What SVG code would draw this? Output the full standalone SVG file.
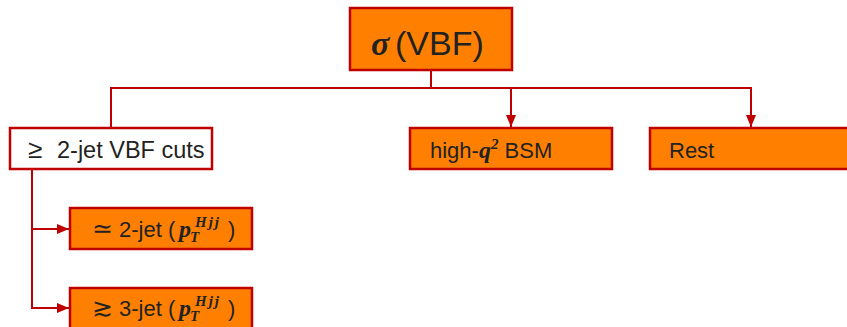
<svg xmlns="http://www.w3.org/2000/svg" width="847" height="327" viewBox="0 0 847 327">
<style>
.box{fill:#ff8000;stroke:#c00000;stroke-width:2.5}
.wbox{fill:#ffffff;stroke:#c00000;stroke-width:2.5}
.t{font-family:"Liberation Sans",Arial,sans-serif;font-size:22px;fill:#222}
.m{font-family:"Liberation Serif","DejaVu Serif",serif;font-style:italic;font-weight:bold}
.s{font-size:15px}
.c{fill:none;stroke:#c00000;stroke-width:2}
</style>
<defs>
<marker id="a" viewBox="0 0 12 10" refX="12" refY="5" markerWidth="12" markerHeight="10" markerUnits="userSpaceOnUse" orient="auto">
<path d="M0,0 L12,5 L0,10 Z" fill="#c00000"/>
</marker>
</defs>
<g id="connectors">
<path class="c" d="M431,70 V88 H111 V128"/>
<path class="c" d="M431,88 H511 V127" marker-end="url(#a)"/>
<path class="c" d="M511,88 H751 V127" marker-end="url(#a)"/>
<path class="c" d="M32,169 V229 H69" marker-end="url(#a)"/>
<path class="c" d="M32,229 V308 H69" marker-end="url(#a)"/>
</g>
<g id="vbf">
<rect class="box" x="350" y="8" width="162" height="62"/>
<text class="t" y="55" style="font-size:34px"><tspan class="m" x="371" style="font-size:34px">σ</tspan><tspan x="395">(VBF)</tspan></text>
</g>
<g id="cuts">
<rect class="wbox" x="10" y="128" width="202" height="41"/>
<text class="t" y="158"><tspan x="28" style="font-size:26px">≥</tspan><tspan x="57" style="font-size:23.5px">2-jet VBF cuts</tspan></text>
</g>
<g id="bsm">
<rect class="box" x="410" y="128" width="202" height="41"/>
<text class="t" x="430" y="158">high-<tspan class="m" style="font-size:24px">q</tspan><tspan class="m s" dy="-9">2</tspan><tspan dy="9"> BSM</tspan></text>
</g>
<g id="rest">
<rect class="box" x="650" y="128" width="210" height="41"/>
<text class="t" x="669" y="158">Rest</text>
</g>
<g id="jet2">
<rect class="box" x="70" y="208" width="182" height="41"/>
<text class="t" y="237"><tspan x="92" style="font-size:25px">≃</tspan><tspan x="119">2-jet (</tspan><tspan class="m" x="179" style="font-size:24px">p</tspan><tspan class="m s" x="190" y="242">T</tspan><tspan class="m s" x="195" y="227" letter-spacing="2">Hjj</tspan><tspan x="228" y="237">)</tspan></text>
</g>
<g id="jet3">
<rect class="box" x="70" y="288" width="182" height="41"/>
<text class="t" y="316"><tspan x="92" style="font-size:25px">≳</tspan><tspan x="119">3-jet (</tspan><tspan class="m" x="179" style="font-size:24px">p</tspan><tspan class="m s" x="190" y="321">T</tspan><tspan class="m s" x="195" y="306" letter-spacing="2">Hjj</tspan><tspan x="228" y="316">)</tspan></text>
</g>
</svg>
